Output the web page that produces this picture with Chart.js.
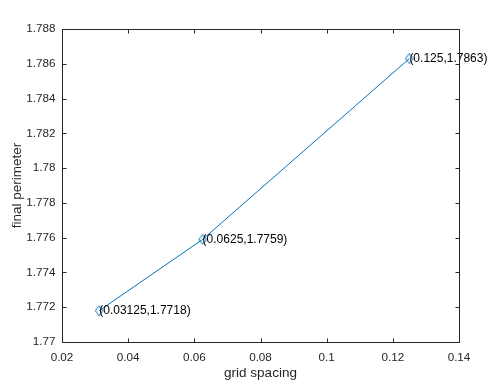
<!DOCTYPE html>
<html><head><meta charset="utf-8">
<script src="https://cdn.jsdelivr.net/npm/chart.js"></script>
<style>html,body{margin:0;padding:0;background:#fff}#wrap{width:498px;height:387px}</style>
</head><body><div id="wrap"><canvas id="c" width="498" height="387"></canvas></div>
<script>
const gridSpacing = [0.03125, 0.0625, 0.125];
const finalPerimeter = [1.7718, 1.7759, 1.7863];
const pointLabels = ['(0.03125,1.7718)', '(0.0625,1.7759)', '(0.125,1.7863)'];
const xTicks = [0.02, 0.04, 0.06, 0.08, 0.1, 0.12, 0.14];
const xTickLabels = ['0.02', '0.04', '0.06', '0.08', '0.1', '0.12', '0.14'];
const yTicks = [1.77, 1.772, 1.774, 1.776, 1.778, 1.78, 1.782, 1.784, 1.786, 1.788];
const yTickLabels = ['1.77', '1.772', '1.774', '1.776', '1.778', '1.78', '1.782', '1.784', '1.786', '1.788'];
const xTitle = 'grid spacing';
const yTitle = 'final perimeter';

const FONT = "'Liberation Sans', Arial, Helvetica, sans-serif";
const AXIS = '#262626';
const LINE = '#0072BD';

const marker = document.createElement('canvas');
marker.width = 10; marker.height = 12;
(function () {
  const m = marker.getContext('2d');
  m.strokeStyle = LINE; m.lineWidth = 1;
  m.beginPath();
  m.moveTo(5, 1); m.lineTo(8.8, 6); m.lineTo(5, 11); m.lineTo(1.2, 6); m.closePath();
  m.stroke();
})();

const boxPlugin = {
  id: 'box',
  afterDatasetsDraw(chart) {
    const ctx = chart.ctx;
    const ca = chart.chartArea;
    const xs = chart.scales.x, ys = chart.scales.y;
    ctx.save();
    ctx.fillStyle = '#000';
    ctx.font = '12px ' + FONT;
    ctx.textAlign = 'left';
    ctx.textBaseline = 'middle';
    for (let i = 0; i < gridSpacing.length; i++) {
      const px = xs.getPixelForValue(gridSpacing[i]);
      const py = ys.getPixelForValue(finalPerimeter[i]);
      ctx.fillText(pointLabels[i], px, py);
    }
    ctx.strokeStyle = AXIS;
    ctx.lineWidth = 1;
    const L = Math.round(ca.left) + 0.5, R = Math.round(ca.right) + 0.5;
    const T = Math.round(ca.top) + 0.5, B = Math.round(ca.bottom) + 0.5;
    ctx.beginPath();
    ctx.rect(L, T, R - L, B - T);
    const tl = 4;
    xTicks.forEach(v => {
      const x = Math.round(xs.getPixelForValue(v)) + 0.5;
      ctx.moveTo(x, B); ctx.lineTo(x, B - tl);
      ctx.moveTo(x, T); ctx.lineTo(x, T + tl);
    });
    yTicks.forEach(v => {
      const y = Math.round(ys.getPixelForValue(v)) + 0.5;
      ctx.moveTo(L, y); ctx.lineTo(L + tl, y);
      ctx.moveTo(R, y); ctx.lineTo(R - tl, y);
    });
    ctx.stroke();
    ctx.restore();
  }
};

new Chart(document.getElementById('c'), {
  type: 'scatter',
  data: {
    datasets: [{
      data: gridSpacing.map((x, i) => ({x: x, y: finalPerimeter[i]})),
      showLine: true,
      borderColor: LINE,
      borderWidth: 1,
      pointStyle: marker,
      pointRadius: 5,
      pointHoverRadius: 5,
      pointBorderColor: LINE,
      pointBackgroundColor: 'rgba(0,0,0,0)',
      pointBorderWidth: 1,
      clip: false
    }]
  },
  options: {
    responsive: false,
    devicePixelRatio: 1,
    animation: false,
    events: [],
    layout: {padding: {left: 0, right: 39, top: 29, bottom: 0}},
    plugins: {legend: {display: false}, tooltip: {enabled: false}},
    scales: {
      x: {
        type: 'linear', min: 0.02, max: 0.14,
        afterBuildTicks: s => { s.ticks = xTicks.map(v => ({value: v})); },
        afterFit: s => { s.height = 45; },
        grid: {display: false, drawTicks: false, tickLength: 0},
        border: {display: false},
        ticks: {
          font: {size: 11.7, family: FONT}, color: AXIS, padding: 9, maxRotation: 0, autoSkip: false,
          callback: (v, i) => xTickLabels[i]
        },
        title: {display: true, text: xTitle, font: {size: 13.5, family: FONT}, color: AXIS, padding: {top: 0, bottom: 5.5}}
      },
      y: {
        type: 'linear', min: 1.77, max: 1.788,
        afterBuildTicks: s => { s.ticks = yTicks.map(v => ({value: v})); },
        afterFit: s => { s.width = 62; },
        grid: {display: false, drawTicks: false, tickLength: 0},
        border: {display: false},
        ticks: {
          font: {size: 11.7, family: FONT}, color: AXIS, padding: 6.5, autoSkip: false,
          callback: (v, i) => yTickLabels[i]
        },
        title: {display: true, text: yTitle, font: {size: 13.5, family: FONT}, color: AXIS, padding: {top: 9, bottom: 0}}
      }
    }
  },
  plugins: [boxPlugin]
});
</script>
</body></html>
